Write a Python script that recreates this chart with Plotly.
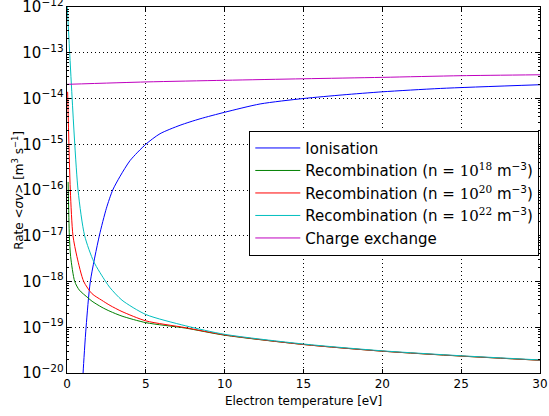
import plotly.graph_objects as go

# ---- data ----
ion_T = [0.95, 1.02, 1.21, 1.48, 2.05, 2.5, 2.9, 3.37, 4.0, 5.0, 5.9, 7.17, 8.44, 10.0, 12.25, 15.0, 17.5, 20.0, 23.7, 30.0]
ion_R = [3e-21, 1.0e-20, 1.0e-19, 1.0e-18, 1.0e-17, 4.0e-17, 1.0e-16, 2.0e-16, 4.4e-16,
         1.0e-15, 1.7e-15, 2.6e-15, 3.6e-15, 5.0e-15, 7.6e-15, 1.0e-14, 1.2e-14, 1.4e-14, 1.66e-14, 2.0e-14]

rec18_T = [0.07, 0.15, 0.23, 0.49, 0.78, 1.33, 1.59, 2.22, 2.73, 3.49, 5.0, 7.5, 10.0, 15.0, 20.0, 25.0, 30.0]
rec18_R = [1.5e-16, 1.0e-17, 3.5e-18, 1.0e-18, 6.5e-19, 4.4e-19, 3.7e-19, 2.72e-19, 2.23e-19, 1.75e-19,
           1.26e-19, 9.6e-20, 6.7e-20, 4.2e-20, 3.0e-20, 2.34e-20, 1.9e-20]

rec20_T = [0.04, 0.21, 0.38, 0.63, 1.06, 1.59, 2.2, 2.73, 3.49, 5.0, 7.5, 10.0, 15.0, 20.0, 25.0, 30.0]
rec20_R = [1.4e-14, 1.0e-16, 1.0e-17, 3.5e-18, 1.0e-18, 5.4e-19, 3.9e-19, 3.0e-19, 2.2e-19, 1.38e-19,
           9.8e-20, 6.8e-20, 4.2e-20, 3.0e-20, 2.35e-20, 1.9e-20]

rec22_T = [0.02, 0.70, 1.12, 1.70, 2.45, 2.73, 3.49, 5.0, 7.5, 10.0, 15.0, 20.0, 25.0, 30.0]
rec22_R = [1.0e-12, 1.0e-16, 1.0e-17, 2.7e-18, 1.0e-18, 7.3e-19, 3.9e-19, 1.9e-19, 1.08e-19, 7.0e-20,
           4.3e-20, 3.05e-20, 2.38e-20, 1.93e-20]

cx_T = [0.0, 5.0, 10.0, 15.0, 20.0, 25.0, 30.0]
cx_R = [2.04e-14, 2.3e-14, 2.5e-14, 2.7e-14, 2.9e-14, 3.15e-14, 3.3e-14]

x_ticks = [0, 5, 10, 15, 20, 25, 30]

serif = "<span style='font-family:DejaVu Serif'>"
names = [
    "Ionisation",
    "Recombination (n = " + serif + "10<sup>18</sup></span> m<sup>−3</sup>)",
    "Recombination (n = " + serif + "10<sup>20</sup></span> m<sup>−3</sup>)",
    "Recombination (n = " + serif + "10<sup>22</sup></span> m<sup>−3</sup>)",
    "Charge exchange",
]
colors = ["#0000ff", "#008000", "#ff0000", "#00bfbf", "#bf00bf"]
series = [(ion_T, ion_R), (rec18_T, rec18_R), (rec20_T, rec20_R), (rec22_T, rec22_R), (cx_T, cx_R)]

fig = go.Figure()
for (t, r), n, c in zip(series, names, colors):
    fig.add_trace(go.Scatter(x=t, y=r, mode="lines", name=n,
                             line=dict(color=c, width=1, shape="spline", smoothing=0.7)))

axis_common = dict(
    showline=True, linecolor="black", linewidth=1, mirror="allticks",
    ticks="inside", ticklen=4, tickcolor="black", tickwidth=1,
    showgrid=True, gridcolor="black", griddash="1px,3px", gridwidth=1,
    zeroline=False, automargin=False, ticklabeloverflow="allow",
    tickfont=dict(family="DejaVu Sans", size=12, color="black"),
)

fig.update_xaxes(range=[0, 30], tickvals=x_ticks, ticktext=[str(v) for v in x_ticks],
                 title=dict(text="Electron temperature [eV]", standoff=6,
                            font=dict(family="DejaVu Sans", size=12, color="black")),
                 **axis_common)
fig.update_yaxes(type="log", range=[-20, -12], dtick=1, exponentformat="power",
                 minor=dict(ticks="inside", ticklen=2, tickcolor="black", dtick="D1", showgrid=False),
                 **axis_common)

fig.add_annotation(text="Rate &lt;<i>σv</i>&gt; [m<sup>3</sup> s<sup>−1</sup>]",
                   xref="paper", yref="paper", x=-0.104, y=0.5, xanchor="center", yanchor="middle",
                   textangle=-90, showarrow=False,
                   font=dict(family="DejaVu Sans", size=12, color="black"))

fig.update_layout(
    width=549, height=416,
    margin=dict(l=67, r=9, t=7, b=43),
    paper_bgcolor="white", plot_bgcolor="white",
    font=dict(family="DejaVu Sans", size=12, color="black"),
    legend=dict(x=0.9985, xanchor="right", y=0.662, yanchor="top",
                bordercolor="black", borderwidth=1, bgcolor="white",
                font=dict(family="DejaVu Sans", size=15, color="black"),
                tracegroupgap=0, itemwidth=45),
    showlegend=True,
)

fig.write_html("out.html", config={"displayModeBar": False},
               post_script="document.body.style.margin='0px';")
